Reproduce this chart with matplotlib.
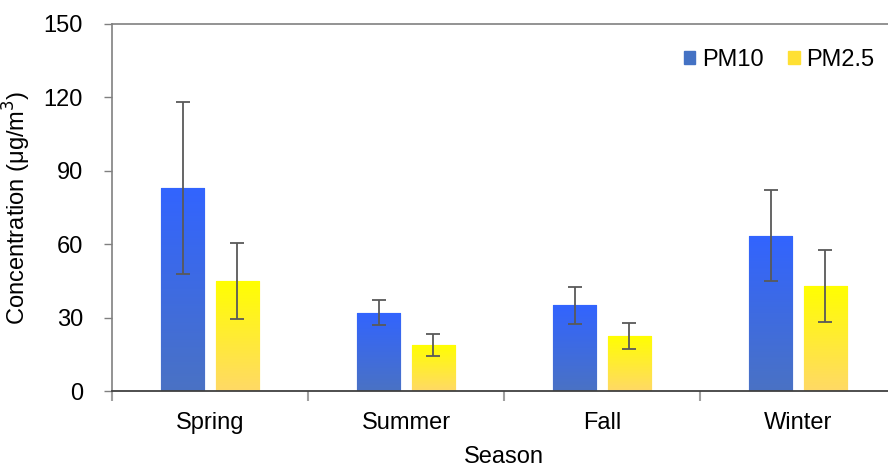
import numpy as np
import matplotlib.pyplot as plt
from matplotlib.colors import LinearSegmentedColormap

plt.rcParams['font.family'] = ['Liberation Sans', 'DejaVu Sans']

seasons = ['Spring', 'Summer', 'Fall', 'Winter']
pm10 = [83, 32, 35, 63.5]
pm10_sd = [35, 5, 7.5, 18.5]
pm25 = [45, 19, 22.5, 43]
pm25_sd = [15.5, 4.5, 5.2, 14.7]

fig = plt.figure(figsize=(8.88, 4.68), dpi=100)
# right edge runs past the figure so the last spine is cut off
ax = fig.add_axes([112 / 888, 1 - 391 / 468, 784 / 888, 367 / 468])

x = np.arange(len(seasons))
w = 0.22
off = 0.14

blue_map = LinearSegmentedColormap.from_list('b', ['#4a72c4', '#3264ff'])
yel_map = LinearSegmentedColormap.from_list('y', ['#ffd966', '#ffff00'])


def gradient_bars(xs, vals, cmap, edge, label):
    bars = ax.bar(xs, vals, w, color=cmap(1.0), edgecolor=edge, linewidth=1,
                  label=label, zorder=2)
    grad = np.linspace(0, 1, 256).reshape(-1, 1)
    for b in bars:
        x0, y0 = b.get_x(), b.get_y()
        im = ax.imshow(grad, cmap=cmap, origin='lower', aspect='auto',
                       extent=[x0, x0 + b.get_width(), y0, y0 + b.get_height()],
                       zorder=2.5)
        im.set_clip_path(b)
    return bars


gradient_bars(x - off, pm10, blue_map, '#a9bff5', 'PM10')
gradient_bars(x + off, pm25, yel_map, '#fff3a0', 'PM2.5')

err_kw = dict(fmt='none', ecolor='#595959', elinewidth=1.3, capsize=5,
              capthick=1.3, zorder=3)
ax.errorbar(x - off, pm10, yerr=pm10_sd, **err_kw)
ax.errorbar(x + off, pm25, yerr=pm25_sd, **err_kw)

ax.set_xlim(-0.5, 3.5)
ax.set_ylim(0, 150)
ax.set_yticks(np.arange(0, 151, 30))
ax.set_xticks(x)
ax.set_xticklabels(seasons)
ax.set_xticks(np.arange(-0.5, 3.6, 1), minor=True)

ax.tick_params(axis='y', direction='out', length=6, width=1, color='#808080',
               labelsize=17, pad=15)
ax.tick_params(axis='x', which='major', length=0, labelsize=17, pad=15)
ax.tick_params(axis='x', which='minor', direction='out', length=7, width=1.5,
               color='#a0a0a0')

for s in ['left', 'top']:
    ax.spines[s].set_color('#808080')
    ax.spines[s].set_linewidth(1.2)
ax.spines['right'].set_visible(False)
ax.spines['bottom'].set_color('#404040')
ax.spines['bottom'].set_linewidth(1.3)

ax.set_ylabel('Concentration (\u03bcg/m$^3$)', fontsize=17)
ax.yaxis.set_label_coords(-0.101, 0.5)
ax.set_xlabel('Season', fontsize=17, labelpad=9)

handles, labels = ax.get_legend_handles_labels()
leg = ax.legend(handles, labels, loc='upper right', ncol=2, frameon=False,
                fontsize=17, handlelength=0.5, handleheight=0.5,
                handletextpad=0.3, columnspacing=1.0,
                bbox_to_anchor=(1.0, 0.99))
leg.legend_handles[0].set_facecolor('#4472c4')
leg.legend_handles[0].set_edgecolor('#4472c4')
leg.legend_handles[1].set_facecolor('#ffe033')
leg.legend_handles[1].set_edgecolor('#ffe033')

fig.savefig('out.png', dpi=100)
